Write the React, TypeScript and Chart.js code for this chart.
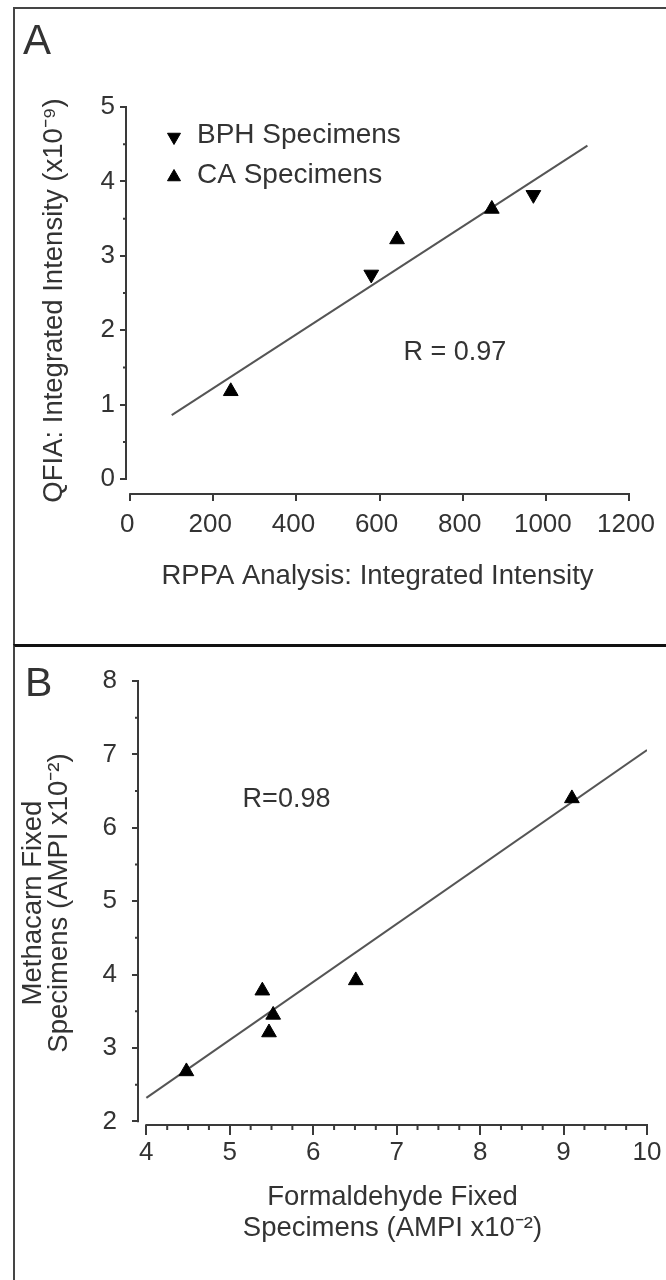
import React, { useEffect, useRef } from 'react';
import { Chart, registerables } from 'chart.js';

Chart.register(...registerables);

const FONT = "'Liberation Sans', Arial, Helvetica, sans-serif";
const INK = '#333333';
const AXIS = '#3a3a3a';
const FIT = '#555555';
const MARK = '#000000';

Chart.defaults.font.family = FONT;
Chart.defaults.color = INK;

// ---------------- Panel A data ----------------
const seriesNamesA = ['BPH Specimens', 'CA Specimens'];
const bphSpecimensA = [
  { x: 580, y: 2.75 },
  { x: 970, y: 3.82 },
];
const caSpecimensA = [
  { x: 242, y: 1.18 },
  { x: 642, y: 3.22 },
  { x: 870, y: 3.63 },
];
const fitLineA = [
  { x: 100, y: 0.86 },
  { x: 1100, y: 4.48 },
];
const xTicksA = [0, 200, 400, 600, 800, 1000, 1200];
const yTicksA = [0, 1, 2, 3, 4, 5];
const yMinorTicksA = [0.5, 1.5, 2.5, 3.5, 4.5];
const xTitleA = 'RPPA Analysis: Integrated Intensity';
const yTitleA = 'QFIA: Integrated Intensity (x10⁻⁹)';
const rLabelA = 'R = 0.97';

// ---------------- Panel B data ----------------
const seriesNameB = 'CA Specimens';
const caSpecimensB = [
  { x: 4.48, y: 2.68 },
  { x: 5.39, y: 3.78 },
  { x: 5.52, y: 3.45 },
  { x: 5.47, y: 3.21 },
  { x: 6.51, y: 3.92 },
  { x: 9.1, y: 6.4 },
];
const fitLineB = [
  { x: 4, y: 2.32 },
  { x: 10, y: 7.06 },
];
const xTicksB = [4, 5, 6, 7, 8, 9, 10];
const xMinorTicksB = [
  4.25, 4.5, 4.75, 5.25, 5.5, 5.75, 6.25, 6.5, 6.75,
  7.25, 7.5, 7.75, 8.25, 8.5, 8.75, 9.25, 9.5, 9.75,
];
const yTicksB = [2, 3, 4, 5, 6, 7, 8];
const yMinorTicksB = [2.5, 3.5, 4.5, 5.5, 6.5, 7.5];
const xTitleB = ['Formaldehyde Fixed', 'Specimens (AMPI x10⁻²)'];
const yTitleB = ['Methacarn Fixed', 'Specimens (AMPI x10⁻²)'];
const rLabelB = 'R=0.98';

// ---------------- helpers ----------------
function trianglePath(ctx: CanvasRenderingContext2D, x: number, y: number, r: number, rotDeg: number) {
  const rot = (rotDeg * Math.PI) / 180;
  ctx.beginPath();
  for (let i = 0; i < 3; i++) {
    const a = rot + (i * 2 * Math.PI) / 3;
    const px = x + Math.sin(a) * r;
    const py = y - Math.cos(a) * r;
    if (i === 0) ctx.moveTo(px, py);
    else ctx.lineTo(px, py);
  }
  ctx.closePath();
}

const axisFramePlugin = {
  id: 'axisFrame',
  afterDraw(chart: any, _args: any, o: any) {
    const { ctx, chartArea: ca } = chart;
    const xs = chart.scales.x;
    const ys = chart.scales.y;
    const hw = o.width / 2;
    ctx.save();
    ctx.strokeStyle = o.color;
    ctx.lineWidth = o.width;
    ctx.lineCap = 'butt';
    ctx.beginPath();
    ctx.moveTo(ca.left, ys.getPixelForValue(o.yTo) - hw);
    ctx.lineTo(ca.left, ys.getPixelForValue(o.yFrom) + hw);
    ctx.moveTo(xs.getPixelForValue(o.xFrom) - hw, ca.bottom);
    ctx.lineTo(xs.getPixelForValue(o.xTo) + hw, ca.bottom);
    ctx.stroke();
    ctx.lineWidth = o.minorWidth;
    ctx.beginPath();
    for (const v of o.xMinor) {
      const px = xs.getPixelForValue(v);
      ctx.moveTo(px, ca.bottom);
      ctx.lineTo(px, ca.bottom + o.xMinorLen);
    }
    for (const v of o.yMinor) {
      const py = ys.getPixelForValue(v);
      ctx.moveTo(ca.left - o.yMinorLen, py);
      ctx.lineTo(ca.left, py);
    }
    ctx.stroke();
    ctx.restore();
  },
};

const panelTextPlugin = {
  id: 'panelText',
  afterDraw(chart: any, _args: any, o: any) {
    const { ctx } = chart;
    const xs = chart.scales.x;
    const ys = chart.scales.y;
    ctx.save();
    ctx.fillStyle = o.color;
    ctx.font = `${o.letterSize}px ${FONT}`;
    ctx.textAlign = 'left';
    ctx.textBaseline = 'alphabetic';
    ctx.fillText(o.letter, o.letterX, o.letterY);

    ctx.font = `${o.textSize}px ${FONT}`;
    ctx.textAlign = 'center';
    ctx.textBaseline = 'middle';
    ctx.fillText(o.rText, xs.getPixelForValue(o.rAt[0]), ys.getPixelForValue(o.rAt[1]));

    if (o.legend) {
      const L = o.legend;
      ctx.font = `${L.size}px ${FONT}`;
      const items = chart.data.datasets.filter((d: any) => L.labels.includes(d.label));
      items.forEach((d: any, i: number) => {
        const cy = L.y + i * L.gap;
        ctx.fillStyle = d.pointBackgroundColor;
        ctx.strokeStyle = d.pointBorderColor;
        ctx.lineWidth = 1;
        trianglePath(ctx, L.x, cy + L.markerDy, L.r, d.pointRotation || 0);
        ctx.fill();
        ctx.stroke();
        ctx.fillStyle = o.color;
        ctx.textAlign = 'left';
        ctx.textBaseline = 'middle';
        ctx.fillText(d.label, L.textX, cy);
      });
    }
    ctx.restore();
  },
};

function fixedTicks(values: number[]) {
  return (s: any) => {
    s.ticks = values.map((v) => ({ value: v }));
  };
}

function markerSet(label: string, data: any[], rotation: number) {
  return {
    label,
    data,
    pointStyle: 'triangle',
    pointRotation: rotation,
    pointRadius: 8.5,
    pointBackgroundColor: MARK,
    pointBorderColor: MARK,
    pointBorderWidth: 1,
    showLine: false,
  };
}

function fitSet(data: any[]) {
  return {
    label: 'Linear fit',
    data,
    showLine: true,
    pointRadius: 0,
    borderColor: FIT,
    borderWidth: 2,
    fill: false,
  };
}

function gridOpts(len: number) {
  return {
    display: true,
    drawOnChartArea: false,
    drawTicks: true,
    tickLength: len,
    color: AXIS,
    tickColor: AXIS,
    tickWidth: 2,
    lineWidth: 2,
  };
}

const TICK_SIZE = 26;
const TITLE_SIZE = 27.5;

function configA(): any {
  return {
    type: 'scatter',
    data: {
      datasets: [
        markerSet(seriesNamesA[0], bphSpecimensA, 180),
        markerSet(seriesNamesA[1], caSpecimensA, 0),
        fitSet(fitLineA),
      ],
    },
    options: {
      responsive: false,
      animation: false,
      events: [],
      layout: { padding: { left: 0, top: 107, right: 37, bottom: 51 } },
      plugins: {
        legend: { display: false },
        tooltip: { enabled: false },
        axisFrame: {
          color: AXIS, width: 2, minorWidth: 2,
          xFrom: 0, xTo: 1200, yFrom: 0, yTo: 5,
          xMinor: [], yMinor: yMinorTicksA, xMinorLen: 0, yMinorLen: 3,
        },
        panelText: {
          color: INK, letter: 'A', letterSize: 42, letterX: 23, letterY: 54,
          textSize: 27, rText: rLabelA, rAt: [781, 1.7],
          legend: { labels: seriesNamesA, size: 28, x: 174, y: 135, gap: 40, r: 7.5, markerDy: 2, textX: 197 },
        },
      },
      scales: {
        x: {
          type: 'linear', min: -10, max: 1200, bounds: 'data',
          afterBuildTicks: fixedTicks(xTicksA),
          afterFit: (s: any) => { s.height = 100; s.paddingLeft = 0; s.paddingRight = 0; },
          border: { display: false },
          grid: gridOpts(7),
          ticks: {
            autoSkip: false, maxRotation: 0, minRotation: 0, padding: 10.5, labelOffset: -3,
            color: INK, font: { size: TICK_SIZE, lineHeight: 1 },
            callback: (v: any) => String(v),
          },
          title: { display: true, text: xTitleA, color: INK, font: { size: TITLE_SIZE, lineHeight: 1.2 }, padding: { top: 0, bottom: 1.5 } },
        },
        y: {
          type: 'linear', min: -0.2, max: 5, bounds: 'data',
          afterBuildTicks: fixedTicks(yTicksA),
          afterFit: (s: any) => { s.width = 126; s.paddingTop = 0; s.paddingBottom = 0; },
          border: { display: false },
          grid: gridOpts(6),
          ticks: {
            autoSkip: false, padding: 5,
            color: INK, font: { size: TICK_SIZE, lineHeight: 1 },
            callback: (v: any) => String(v),
          },
          title: { display: true, text: yTitleA, color: INK, font: { size: TITLE_SIZE, lineHeight: 1.2 }, padding: { top: 37.5, bottom: 0 } },
        },
      },
    },
    plugins: [axisFramePlugin, panelTextPlugin],
  };
}

function configB(): any {
  return {
    type: 'scatter',
    data: {
      datasets: [
        markerSet(seriesNameB, caSpecimensB, 0),
        fitSet(fitLineB),
      ],
    },
    options: {
      responsive: false,
      animation: false,
      events: [],
      layout: { padding: { left: 0, top: 36, right: 19, bottom: 35 } },
      plugins: {
        legend: { display: false },
        tooltip: { enabled: false },
        axisFrame: {
          color: AXIS, width: 2, minorWidth: 2,
          xFrom: 4, xTo: 10, yFrom: 2, yTo: 8,
          xMinor: xMinorTicksB, yMinor: yMinorTicksB, xMinorLen: 5, yMinorLen: 3,
        },
        panelText: {
          color: INK, letter: 'B', letterSize: 41, letterX: 25, letterY: 51,
          textSize: 27, rText: rLabelB, rAt: [5.68, 6.39],
          legend: null,
        },
      },
      scales: {
        x: {
          type: 'linear', min: 3.9, max: 10, bounds: 'data',
          afterBuildTicks: fixedTicks(xTicksB),
          afterFit: (s: any) => { s.height = 120; s.paddingLeft = 0; s.paddingRight = 0; },
          border: { display: false },
          grid: gridOpts(10),
          ticks: {
            autoSkip: false, maxRotation: 0, minRotation: 0, padding: 4.5,
            color: INK, font: { size: TICK_SIZE, lineHeight: 1 },
            callback: (v: any) => String(v),
          },
          title: { display: true, text: xTitleB, color: INK, font: { size: TITLE_SIZE, lineHeight: 1.127 }, padding: { top: 0, bottom: 1.5 } },
        },
        y: {
          type: 'linear', min: 1.95, max: 8, bounds: 'data',
          afterBuildTicks: fixedTicks(yTicksB),
          afterFit: (s: any) => { s.width = 138; s.paddingTop = 0; s.paddingBottom = 0; },
          border: { display: false },
          grid: gridOpts(6),
          ticks: {
            autoSkip: false, padding: 15,
            color: INK, font: { size: TICK_SIZE, lineHeight: 1 },
            callback: (v: any) => String(v),
          },
          title: { display: true, text: yTitleB, color: INK, font: { size: TITLE_SIZE, lineHeight: 0.93 }, padding: { top: 21, bottom: 0 } },
        },
      },
    },
    plugins: [axisFramePlugin, panelTextPlugin],
  };
}

function ChartCanvas({ makeConfig, top, width, height }: { makeConfig: () => any; top: number; width: number; height: number }) {
  const ref = useRef<HTMLCanvasElement | null>(null);
  useEffect(() => {
    if (!ref.current) return;
    const chart = new Chart(ref.current, makeConfig());
    return () => chart.destroy();
  }, []);
  return (
    <canvas
      ref={ref}
      width={width}
      height={height}
      style={{ position: 'absolute', left: 0, top, width, height, display: 'block' }}
    />
  );
}

export default function App() {
  return (
    <div style={{ position: 'absolute', left: 0, top: 0, width: 666, height: 1280, background: '#ffffff', overflow: 'hidden' }}>
      <div style={{ position: 'absolute', left: 13, top: 7, width: 700, height: 640, borderTop: '2px solid #454545', borderLeft: '2px solid #454545', boxSizing: 'border-box' }} />
      <div style={{ position: 'absolute', left: 13, top: 644, width: 700, height: 700, borderTop: '3px solid #111111', borderLeft: '2px solid #454545', boxSizing: 'border-box' }} />
      <ChartCanvas makeConfig={configA} top={0} width={666} height={645} />
      <ChartCanvas makeConfig={configB} top={645} width={666} height={635} />
    </div>
  );
}
